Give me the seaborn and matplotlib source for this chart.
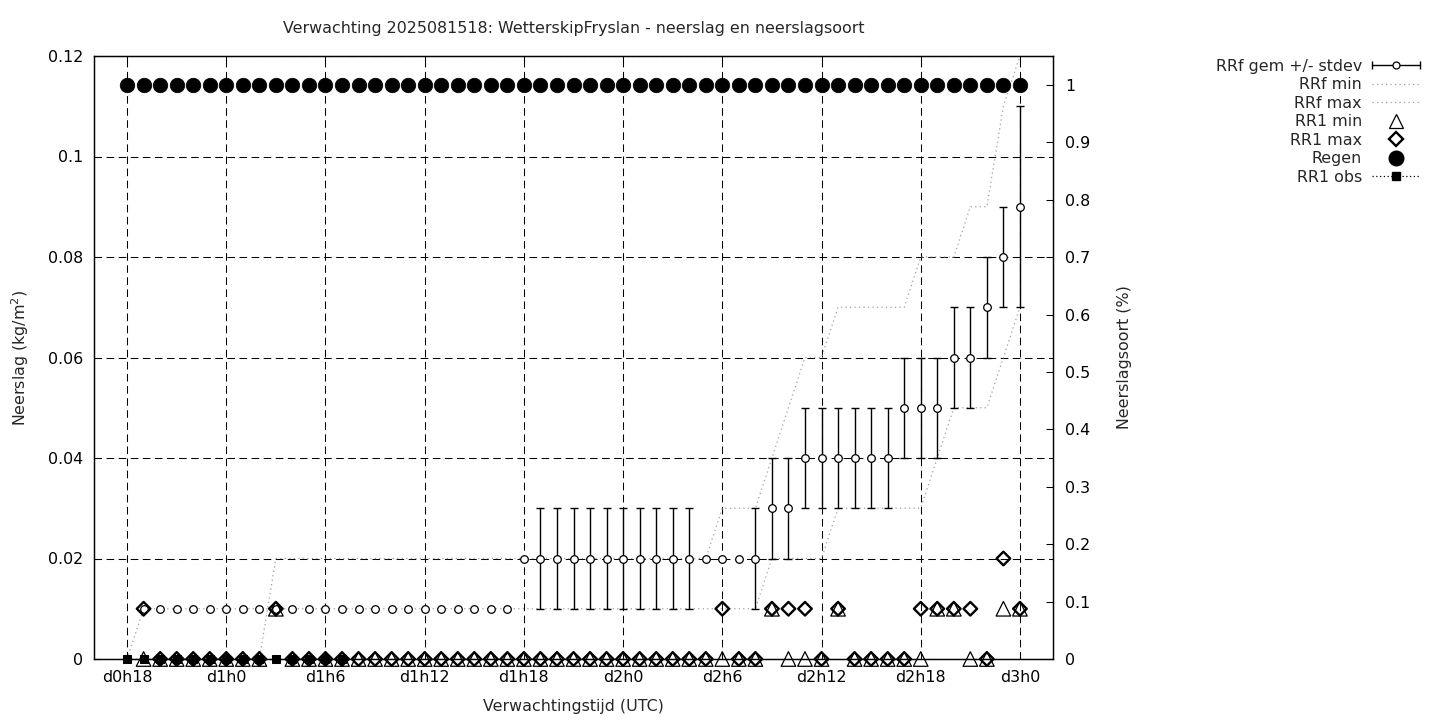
import numpy as np
import pandas as pd
import matplotlib
matplotlib.use("Agg")
import matplotlib.pyplot as plt
import seaborn as sns
from matplotlib.lines import Line2D
from matplotlib.legend_handler import HandlerBase

# ---------------- data ----------------
# forecast hour counted from d0h0 (hourly steps d0h18 .. d3h0)
hours = list(range(18, 73))
tick_hours = [18, 24, 30, 36, 42, 48, 54, 60, 66, 72]
tick_labels = ["d0h18", "d1h0", "d1h6", "d1h12", "d1h18",
               "d2h0", "d2h6", "d2h12", "d2h18", "d3h0"]
left_ticks = [0, 0.02, 0.04, 0.06, 0.08, 0.1, 0.12]
left_tick_labels = ["0", "0.02", "0.04", "0.06", "0.08", "0.1", "0.12"]
right_ticks = [0, 0.1, 0.2, 0.3, 0.4, 0.5, 0.6, 0.7, 0.8, 0.9, 1.0]
right_tick_labels = ["0", "0.1", "0.2", "0.3", "0.4", "0.5", "0.6", "0.7", "0.8", "0.9", "1"]

nan = np.nan
# RRf mean (kg/m2)
rrf_mean = [0.00, 0.01, 0.01, 0.01, 0.01, 0.01,   # h18-23
            0.01, 0.01, 0.01, 0.01, 0.01, 0.01,   # h24-29
            0.01, 0.01, 0.01, 0.01, 0.01, 0.01,   # h30-35
            0.01, 0.01, 0.01, 0.01, 0.01, 0.01,   # h36-41
            0.02, 0.02, 0.02, 0.02, 0.02, 0.02,   # h42-47
            0.02, 0.02, 0.02, 0.02, 0.02, 0.02,   # h48-53
            0.02, 0.02, 0.02, 0.03, 0.03, 0.04,   # h54-59
            0.04, 0.04, 0.04, 0.04, 0.04, 0.05,   # h60-65
            0.05, 0.05, 0.06, 0.06, 0.07, 0.08,   # h66-71
            0.09]                                 # h72
# RRf standard deviation
rrf_std = [0, 0, 0, 0, 0, 0,
           0, 0, 0, 0, 0, 0,
           0, 0, 0, 0, 0, 0,
           0, 0, 0, 0, 0, 0,
           0, 0.01, 0.01, 0.01, 0.01, 0.01,
           0.01, 0.01, 0.01, 0.01, 0.01, 0,
           0, 0, 0.01, 0.01, 0.01, 0.01,
           0.01, 0.01, 0.01, 0.01, 0.01, 0.01,
           0.01, 0.01, 0.01, 0.01, 0.01, 0.01,
           0.02]
# RRf min
rrf_min = [0.00, 0.01, 0.01, 0.01, 0.01, 0.01,
           0.01, 0.01, 0.01, 0.01, 0.01, 0.01,
           0.01, 0.01, 0.01, 0.01, 0.01, 0.01,
           0.01, 0.01, 0.01, 0.01, 0.01, 0.01,
           0.01, 0.01, 0.01, 0.01, 0.01, 0.01,
           0.01, 0.01, 0.01, 0.01, 0.01, 0.01,
           0.01, 0.01, 0.01, 0.02, 0.02, 0.02,
           0.02, 0.03, 0.03, 0.03, 0.03, 0.03,
           0.03, 0.04, 0.05, 0.05, 0.05, 0.06,
           0.07]
# RRf max
rrf_max = [0.00, 0.00, 0.00, 0.00, 0.00, 0.00,
           0.00, 0.00, 0.00, 0.02, 0.02, 0.02,
           0.02, 0.02, 0.02, 0.02, 0.02, 0.02,
           0.02, 0.02, 0.02, 0.02, 0.02, 0.02,
           0.02, 0.02, 0.02, 0.02, 0.02, 0.02,
           0.02, 0.02, 0.02, 0.02, 0.02, 0.02,
           0.03, 0.03, 0.03, 0.04, 0.05, 0.06,
           0.06, 0.07, 0.07, 0.07, 0.07, 0.07,
           0.08, 0.08, 0.08, 0.09, 0.09, 0.11,
           0.12]
# RR1 min (hourly)
rr1_min = [nan, 0, 0, 0, 0, 0,
           0, 0, 0, 0.01, 0, 0,
           0, 0, 0, 0, 0, 0,
           0, 0, 0, 0, 0, 0,
           0, 0, 0, 0, 0, 0,
           0, 0, 0, 0, 0, 0,
           0, 0, 0, 0.01, 0, 0,
           0, 0.01, 0, 0, 0, 0,
           0, 0.01, 0.01, 0, 0, 0.01,
           0.01]
# RR1 max (hourly)
rr1_max = [nan, 0.01, 0, 0, 0, 0,
           0, 0, 0, 0.01, 0, 0,
           0, 0, 0, 0, 0, 0,
           0, 0, 0, 0, 0, 0,
           0, 0, 0, 0, 0, 0,
           0, 0, 0, 0, 0, 0,
           0.01, 0, 0, 0.01, 0.01, 0.01,
           0, 0.01, 0, 0, 0, 0,
           0.01, 0.01, 0.01, 0.01, 0, 0.02,
           0.01]
# precipitation type: rain fraction
regen = [1, 1, 1, 1, 1, 1,
         1, 1, 1, 1, 1, 1,
         1, 1, 1, 1, 1, 1,
         1, 1, 1, 1, 1, 1,
         1, 1, 1, 1, 1, 1,
         1, 1, 1, 1, 1, 1,
         1, 1, 1, 1, 1, 1,
         1, 1, 1, 1, 1, 1,
         1, 1, 1, 1, 1, 1,
         1]
# observed hourly precipitation
obs_hours = [18, 19, 20, 21, 22, 23, 24, 25, 26, 27, 28, 29, 30, 31]
rr1_obs = [0, 0, 0, 0, 0, 0, 0, 0, 0, 0, 0, 0, 0, 0]

title = "Verwachting 2025081518: WetterskipFryslan - neerslag en neerslagsoort"

df = pd.DataFrame({"hour": hours, "mean": rrf_mean, "std": rrf_std,
                   "rmin": rrf_min, "rmax": rrf_max,
                   "r1min": rr1_min, "r1max": rr1_max, "regen": regen})
dfo = pd.DataFrame({"hour": obs_hours, "obs": rr1_obs})

# ---------------- style ----------------
FS = 11.4
sns.set_style("ticks")
plt.rcParams["font.family"] = ["DejaVu Sans"]
plt.rcParams["font.size"] = FS

fig = plt.figure(figsize=(14.4, 7.2), dpi=100)
ax = fig.add_axes([94 / 1440, 1 - 659 / 720, (1053 - 94) / 1440, (659 - 56) / 720])
ax2 = ax.twinx()

GRAY = "#a0a0a0"
grid_ls = (0, (7.3, 4.3))

# error bars (only where stdev > 0)
de = df[df["std"] > 0]
ax.errorbar(de["hour"], de["mean"], yerr=de["std"], fmt="none", ecolor="k",
            elinewidth=1.0, capsize=3, capthick=1.0, zorder=3)

# RRf min / max lines
sns.lineplot(data=df, x="hour", y="rmin", ax=ax, color=GRAY, lw=0.9,
             linestyle=(0, (1, 2.6)), zorder=2)
sns.lineplot(data=df, x="hour", y="rmax", ax=ax, color=GRAY, lw=0.9,
             linestyle=(0, (1, 2.6)), zorder=2)

# mean circles
sns.scatterplot(data=df, x="hour", y="mean", ax=ax, marker="o", s=30,
                facecolor="white", edgecolor="k", linewidth=0.9, zorder=4,
                clip_on=False)
# RR1 min triangles
sns.scatterplot(data=df, x="hour", y="r1min", ax=ax, marker="^", s=110,
                facecolor="none", edgecolor="k", linewidth=0.9, zorder=5,
                clip_on=False)
# RR1 max diamonds
sns.scatterplot(data=df, x="hour", y="r1max", ax=ax, marker="D", s=48,
                facecolor="none", edgecolor="k", linewidth=1.7, zorder=6,
                clip_on=False)
# observations
sns.lineplot(data=dfo, x="hour", y="obs", ax=ax, color="k", lw=0.9,
             linestyle=(0, (1, 2)), marker="s", markersize=5.5,
             markeredgecolor="k", markerfacecolor="k", zorder=7, clip_on=False)

# Regen on secondary axis
sns.scatterplot(data=df, x="hour", y="regen", ax=ax2, marker="o", s=110,
                color="k", edgecolor="k", linewidth=0.5, zorder=5)

# ---------------- axes ----------------
ax.set_xlim(16, 74)
ax.set_ylim(0, 0.12)
ax2.set_ylim(0, 1.0505)
ax.set_xticks(tick_hours)
ax.set_xticklabels(tick_labels)
ax.set_yticks(left_ticks)
ax.set_yticklabels(left_tick_labels)
ax2.set_yticks(right_ticks)
ax2.set_yticklabels(right_tick_labels)

ax.grid(True, color="k", linestyle=grid_ls, linewidth=0.75)
ax.set_axisbelow(True)
ax2.grid(False)

ax.tick_params(axis="both", direction="in", length=5, width=0.75, color="k",
               labelsize=FS, pad=8.0, top=True, right=False, labelcolor="k")
ax2.tick_params(axis="y", direction="in", length=5, width=0.75, color="k",
                labelsize=FS, pad=9, right=True, labelcolor="k")
for a in (ax, ax2):
    for s in a.spines.values():
        s.set_visible(True)
        s.set_color("k")
        s.set_linewidth(0.9)

ax.set_xlabel("Verwachtingstijd (UTC)", fontsize=FS)
ax.set_ylabel("Neerslag (kg/m$^2$)", fontsize=FS)
ax2.set_ylabel("Neerslagsoort (%)", fontsize=FS)
ax.xaxis.set_label_coords(0.5, -0.066)
ax.yaxis.set_label_coords(-0.066, 0.5)
ax2.yaxis.set_label_coords(1.067, 0.5)

fig.text((94 + 1053) / 2 / 1440, 1 - 29 / 720, title, ha="center", va="center",
         fontsize=FS)


# ---------------- legend ----------------
class ErrKey:
    pass


class ErrHandler(HandlerBase):
    def create_artists(self, legend, orig_handle, xdescent, ydescent, width,
                       height, fontsize, trans):
        y = height / 2 - ydescent
        x0 = -xdescent
        x1 = x0 + width
        line = Line2D([x0, x1], [y, y], color="k", lw=1.0)
        caps = Line2D([x0, x1], [y, y], ls="none", marker="|", ms=6,
                      mew=1.0, color="k")
        dot = Line2D([(x0 + x1) / 2], [y], ls="none", marker="o", ms=5,
                     mfc="white", mec="k", mew=0.9)
        for a in (line, caps, dot):
            a.set_transform(trans)
        return [line, caps, dot]


handles = [
    ErrKey(),
    Line2D([], [], color=GRAY, lw=0.9, ls=(0, (1, 2.6))),
    Line2D([], [], color=GRAY, lw=0.9, ls=(0, (1, 2.6))),
    Line2D([], [], ls="none", marker="^", ms=10, mfc="none", mec="k", mew=0.9),
    Line2D([], [], ls="none", marker="D", ms=6.8, mfc="none", mec="k", mew=1.7),
    Line2D([], [], ls="none", marker="o", ms=10.5, mfc="k", mec="k"),
    Line2D([], [], color="k", lw=0.9, ls=(0, (1, 2)), marker="s", ms=5.5,
           mfc="k", mec="k"),
]
labels = ["RRf gem +/- stdev", "RRf min", "RRf max", "RR1 min", "RR1 max",
          "Regen", "RR1 obs"]
fig.legend(handles, labels, loc="upper right",
           bbox_to_anchor=(1420 / 1440, 1 - 59 / 720),
           bbox_transform=fig.transFigure, frameon=False, markerfirst=False,
           handlelength=3.04, handletextpad=0.63, labelspacing=0.22,
           borderpad=0, borderaxespad=0, numpoints=1, fontsize=FS,
           handler_map={ErrKey: ErrHandler()})

fig.savefig("out.png", dpi=100)
